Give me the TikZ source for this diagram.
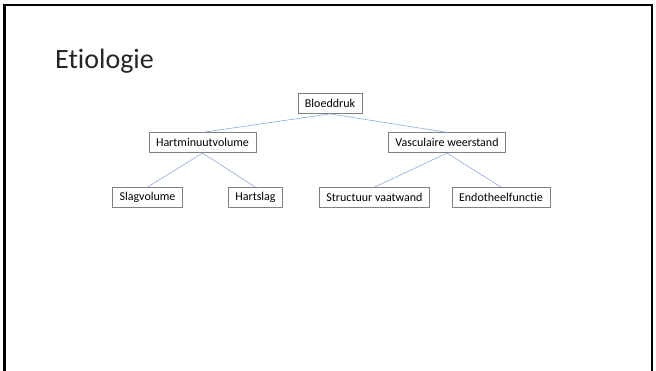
\documentclass[tikz,border=0pt]{standalone}
\usepackage{fontspec}
\setmainfont{Carlito}[Ligatures={NoCommon}]
\usepackage{xcolor}
\usepackage{tikz}
\usetikzlibrary{positioning}
\definecolor{linkcolor}{RGB}{143, 170, 220}
\definecolor{boxcolor}{RGB}{128, 128, 128}

\begin{document}
\begin{tikzpicture}[
  x=1pt, y=-1pt,
  % --- Styles ---
  cbox/.style={
    rectangle, draw=boxcolor, fill=white, line width=0.75pt,
    minimum height=20pt, inner xsep=7pt, inner ysep=2pt,
    font=\fontsize{12}{14}\selectfont},
  link/.style={line width=0.6pt, linkcolor},
  ttl/.style={font=\fontsize{28}{33}\selectfont, text=black!85, inner sep=0pt},
]
\useasboundingbox (0,0) rectangle (656,371);
% slide frame
\draw[black, line width=2.5pt] (4.5,371) -- (4.5,5) -- (652,5) -- (652,371);
% === TITLE ===
\node[ttl, anchor=base west] (T) at (55,69) {Etiologie};
% === NODES ===
% 1. Root
\node[cbox] (BD) at (330,103.5) {Bloeddruk};
% 2. Second level
\node[cbox, below=18.5pt of BD, xshift=-127.5pt] (HMV) {Hartminuutvolume};
\node[cbox, below=18.5pt of BD, xshift=117pt] (VW) {Vasculaire weerstand};
% 3. Third level
\node[cbox, below=34pt of HMV, xshift=-55pt] (SV) {Slagvolume};
\node[cbox, below=34pt of HMV, xshift=53pt] (HS) {Hartslag};
\node[cbox, below=34pt of VW, xshift=-72.5pt] (SVW) {Structuur vaatwand};
\node[cbox, below=34pt of VW, xshift=54pt] (EF) {Endotheelfunctie};
% === LINKS ===
\draw[link] (BD.south) -- (HMV.north);
\draw[link] (BD.south) -- (VW.north);
\draw[link] (HMV.south) -- (SV.north);
\draw[link] (HMV.south) -- (HS.north);
\draw[link] (VW.south) -- (SVW.north);
\draw[link] (VW.south) -- (EF.north);
\end{tikzpicture}
\end{document}
